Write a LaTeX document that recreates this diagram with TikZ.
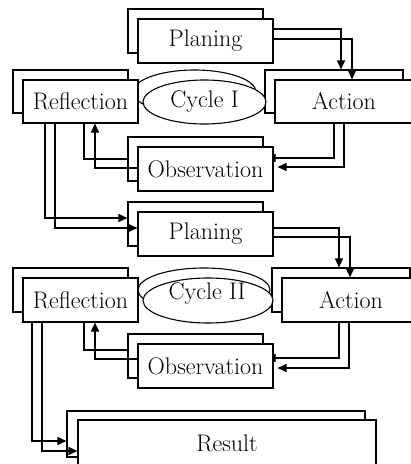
\documentclass[tikz,border=0pt]{standalone}
\usetikzlibrary{arrows.meta,shapes.geometric,backgrounds}
\begin{document}
\begin{tikzpicture}[x=1pt,y=-1pt,
  bx/.style={draw, fill=white, line width=1.1pt, inner sep=0pt, font=\fontsize{24}{28}\selectfont},
  pl/.style={bx, minimum width=135pt, minimum height=44pt},
  rf/.style={bx, minimum width=115pt, minimum height=43pt},
  ac/.style={bx, minimum width=138pt, minimum height=43pt},
  el/.style={bx, ellipse},
  ln/.style={line width=1.1pt},
  ar/.style={ln, -{Triangle[length=9pt,width=8pt]}},
  hid/.style={ar, shorten >=-7pt},
  gap/.style={ar, shorten >=4pt}]
\path[use as bounding box] (0,0) rectangle (411,464);
\clip (0,0) rectangle (411,464);
% front shapes
\node[el, minimum width=123pt, minimum height=44pt] (e1) at (204.5,102) {Cycle I};
\node[el, minimum width=130pt, minimum height=45pt] (e2) at (208,300.5) {};
\node[font=\fontsize{24}{28}\selectfont] (e2t) at (207,294) {Cycle II};
\node[pl] (p1) at (205.5,41) {Planing};
\node[rf] (r1) at (80.5,101.5) {Reflection};
\node[ac] (a1) at (344,101.5) {Action};
\node[pl] (o1) at (205.5,169) {Observation};
\node[pl] (p2) at (205.5,234) {Planing};
\node[rf, minimum height=44pt] (r2) at (80.5,300) {Reflection};
\node[ac, minimum height=44pt] (a2) at (351,300) {Action};
\node[pl] (o2) at (205.5,366) {Observation};
\node[bx, minimum width=298pt, minimum height=46pt] (res) at (227,443) {Result};
% back shapes
\begin{scope}[on background layer]
\node[pl] (p1b) at (195.5,31) {};
\node[rf] (r1b) at (70.5,91.5) {};
\node[ac] (a1b) at (334,91.5) {};
\node[el, minimum width=123pt, minimum height=44pt] (e1b) at (194.5,92) {};
\node[pl] (o1b) at (195.5,159) {};
\node[pl] (p2b) at (195.5,224) {};
\node[rf, minimum height=44pt] (r2b) at (70.5,290) {};
\node[ac, minimum height=44pt] (a2b) at (341,290) {};
\node[el, minimum width=132pt, minimum height=44pt] (e2b) at (204,290) {};
\node[pl] (o2b) at (195.5,356) {};
\node[bx, minimum width=298pt, minimum height=46pt] (resb) at (216,434) {};
\end{scope}
% connectors
\begin{scope}[on background layer]
\draw[ar] ([yshift=12pt]p1.east) -| ([xshift=7pt]a1b.north);
\draw[ar] ([yshift=2pt]p1.east) -| ([xshift=8pt]a1.north);
\draw[hid] ([xshift=-10pt]a1.south) |- ([yshift=11pt]o1.east);
\draw[gap] (a1.south) |- ([yshift=2pt]o1.east);
\draw[ln] ([xshift=3.5pt]r1.south) |- (o1b.west);
\draw[ar] ([yshift=1pt]o1.west) -| ([xshift=14.5pt]r1.south);
\draw[ar] ([xshift=-35.5pt]r1.south) |- ([yshift=6pt]p2b.west);
\draw[ar] ([xshift=-25.5pt]r1.south) |- ([yshift=6pt]p2.west);
\draw[ar] ([yshift=6pt]p2.east) -| ([xshift=-2pt]a2b.north);
\draw[ar] ([yshift=-3pt]p2.east) -| ([xshift=-1pt]a2.north);
\draw[hid] ([xshift=-12pt]a2.south) |- ([yshift=8pt]o2.east);
\draw[gap] ([xshift=-2pt]a2.south) |- ([yshift=-2pt]o2.east);
\draw[ln] ([xshift=3.5pt]r2.south) |- ([yshift=6pt]o2b.west);
\draw[ar] ([yshift=7pt]o2.west) -| ([xshift=14.5pt]r2.south);
\draw[ar] ([xshift=-48.5pt]r2.south) |- ([yshift=-7pt]resb.west);
\draw[ar] ([xshift=-38.5pt]r2.south) |- ([yshift=-8pt]res.west);
\end{scope}
\end{tikzpicture}
\end{document}
